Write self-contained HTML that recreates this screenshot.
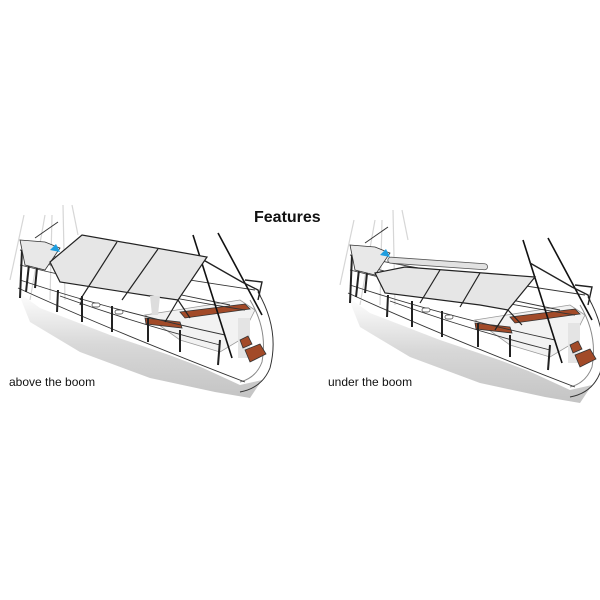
<!DOCTYPE html>
<html><head><meta charset="utf-8"><style>
html,body{margin:0;padding:0;background:#fff;width:600px;height:600px;overflow:hidden}
svg{display:block}
text{font-family:"Liberation Sans",Arial,sans-serif}
</style></head><body>
<svg width="600" height="600" viewBox="0 0 600 600" xmlns="http://www.w3.org/2000/svg">
<defs>
<linearGradient id="sh" x1="0" y1="0" x2="0" y2="1">
<stop offset="0" stop-color="#fff"/><stop offset="0.5" stop-color="#d8d8d8"/><stop offset="1" stop-color="#c4c4c4"/>
</linearGradient>
<linearGradient id="sh2" x1="0" y1="0" x2="1" y2="0">
<stop offset="0" stop-color="#fff"/><stop offset="0.4" stop-color="#ddd"/><stop offset="1" stop-color="#bbb"/>
</linearGradient>
<g id="hull">
<!-- masts -->
<g stroke="#d6d6d6" stroke-width="1.2" fill="none">
<line x1="45" y1="215" x2="30" y2="300"/><line x1="52" y1="215" x2="50" y2="300"/>
<line x1="63" y1="205" x2="65" y2="300"/><line x1="72" y1="205" x2="78" y2="235"/>
<line x1="24" y1="215" x2="10" y2="280"/>
</g>
<!-- hull shadow -->
<path d="M18 292 L40 308 L110 335 L190 362 L240 385 L262 380 L250 398 L215 392 L150 378 L80 352 L30 322 Z" fill="url(#sh)"/>
<path d="M18 288 Q100 330 245 382 Q268 372 272 335" fill="none" stroke="#fff" stroke-width="2"/>
<!-- stern outline -->
<path d="M258 292 Q280 330 270 368 Q262 388 240 392" fill="none" stroke="#333" stroke-width="1"/>
<path d="M250 300 Q268 330 262 362 Q256 378 240 382" fill="none" stroke="#888" stroke-width="1"/>
<!-- cockpit well -->
<path d="M145 315 L240 300 L255 310 L240 340 L220 352 L180 340 Z" fill="#f2f2f2" stroke="#999" stroke-width="0.8"/>
<rect x="238" y="318" width="12" height="40" fill="#e4e4e4"/>
<!-- seats brown -->
<path d="M180 312 L245 304 L250 309 L185 318 Z" fill="#a24a28" stroke="#333" stroke-width="0.8"/>
<path d="M145 318 L180 322 L182 328 L146 324 Z" fill="#a24a28" stroke="#333" stroke-width="0.8"/>
<path d="M245 350 L260 344 L266 354 L250 362 Z" fill="#a24a28" stroke="#333" stroke-width="0.8"/>
<path d="M240 340 L248 336 L252 344 L243 348 Z" fill="#a24a28" stroke="#333" stroke-width="0.8"/>
<!-- lifelines -->
<g stroke="#333" stroke-width="0.9" fill="none">
<path d="M20 250 Q120 270 255 290"/>
<path d="M20 265 Q120 290 245 310"/>
<path d="M20 280 Q110 310 225 335"/>
<path d="M30 260 Q130 285 230 305"/>
<path d="M18 288 Q110 330 245 382"/>
<path d="M60 296 Q140 325 220 345"/>
</g>
<!-- stanchions -->
<g stroke="#222" stroke-width="2" fill="none">
<line x1="22" y1="250" x2="20" y2="298"/><line x1="30" y1="255" x2="26" y2="292"/>
<line x1="38" y1="258" x2="35" y2="288"/><line x1="58" y1="290" x2="57" y2="312"/>
<line x1="82" y1="296" x2="82" y2="322"/><line x1="112" y1="306" x2="112" y2="332"/>
<line x1="148" y1="318" x2="148" y2="342"/><line x1="180" y1="330" x2="180" y2="352"/>
<line x1="220" y1="340" x2="218" y2="365"/>
</g>
<!-- small deck fittings -->
<rect x="92" y="303" width="8" height="4" rx="2" fill="#fff" stroke="#333" stroke-width="0.7"/>
<rect x="115" y="310" width="8" height="4" rx="2" fill="#fff" stroke="#333" stroke-width="0.7"/>
<!-- bow pulpit/dodger -->
<path d="M20 240 L45 242 L60 248 L45 270 L25 265 Z" fill="#e8e8e8" stroke="#333" stroke-width="0.8"/>
<line x1="35" y1="238" x2="58" y2="222" stroke="#333" stroke-width="1"/>
<path d="M50 250 L56 244 L60 252 Z" fill="#1e9ee0"/>
<!-- poles -->
<g stroke="#111" stroke-width="1.6">
<line x1="193" y1="235" x2="232" y2="358"/>
<line x1="218" y1="233" x2="262" y2="315"/>
</g>
<path d="M200 258 L242 282 L258 290 L260 296" fill="none" stroke="#222" stroke-width="1.4"/>
<path d="M245 280 L262 282 L258 300" fill="none" stroke="#222" stroke-width="1.4"/>
</g>
</defs>

<text x="254" y="222" font-size="16" font-weight="bold" fill="#111">Features</text>

<!-- LEFT BOAT -->
<use href="#hull"/>
<g>
<path d="M50 262 L82 235 L207 257 L178 300 L150 296 L60 282 Z" fill="#e6e6e6" stroke="#222" stroke-width="1.2"/>
<g stroke="#222" stroke-width="1.2" fill="none">
<line x1="117" y1="242" x2="80" y2="300"/>
<line x1="158" y1="249" x2="122" y2="300"/>
<line x1="178" y1="300" x2="165" y2="322"/>
<line x1="178" y1="300" x2="190" y2="318"/>
<line x1="82" y1="300" x2="80" y2="305"/>
</g>
<path d="M150 296 L160 296 L158 315 L152 315 Z" fill="#ddd"/>
</g>

<!-- RIGHT BOAT -->
<g transform="translate(330,5)">
<use href="#hull"/>
<rect x="58" y="252" width="100" height="6" rx="3" fill="#e2e2e2" stroke="#555" stroke-width="0.8" transform="rotate(4 58 252)"/>
<path d="M45 268 L75 262 L205 272 L178 305 L150 300 L55 288 Z" fill="#e6e6e6" stroke="#222" stroke-width="1.2"/>
<g stroke="#222" stroke-width="1.2" fill="none">
<line x1="110" y1="265" x2="90" y2="298"/>
<line x1="150" y1="268" x2="130" y2="302"/>
<line x1="178" y1="305" x2="165" y2="325"/>
<line x1="178" y1="305" x2="192" y2="320"/>
</g>
</g>

<text x="9" y="386" font-size="12" fill="#111">above the boom</text>
<text x="328" y="386" font-size="12" fill="#111">under the boom</text>
</svg>
</body></html>
